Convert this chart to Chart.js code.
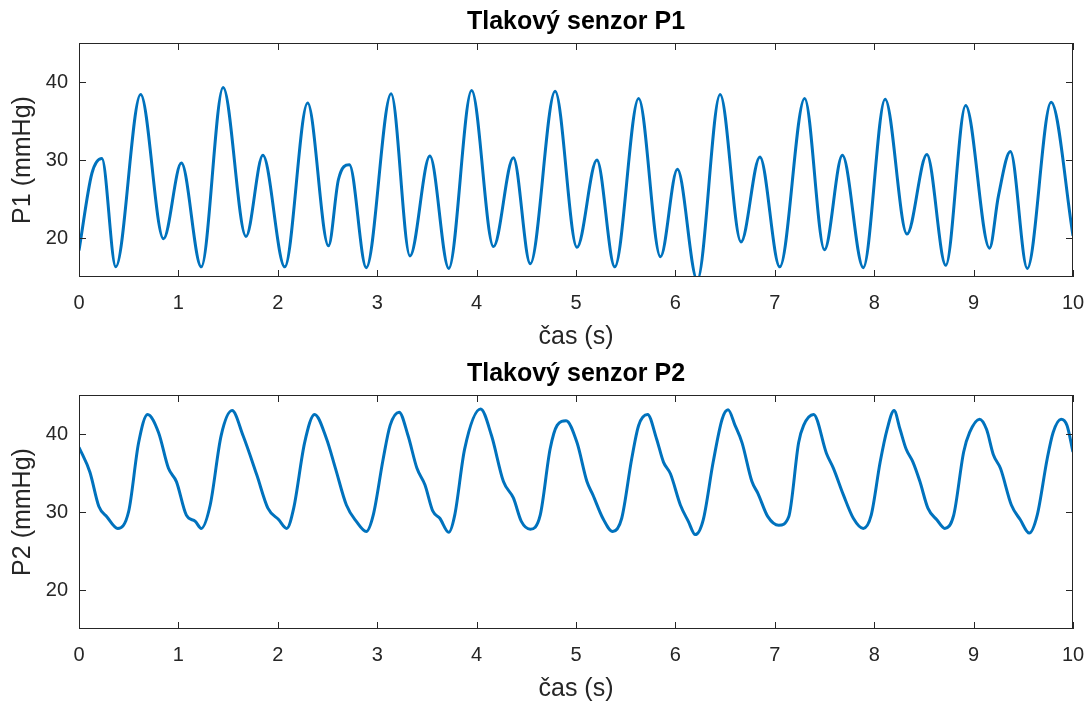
<!DOCTYPE html>
<html>
<head>
<meta charset="utf-8">
<title>Tlakové senzory P1 a P2</title>
<script src="https://cdn.jsdelivr.net/npm/chart.js@4.4.1/dist/chart.umd.min.js"></script>
<style>
    html, body { margin: 0; padding: 0; background: #fff; }
    canvas { display: block; }
</style>
</head>
<body>
<canvas id="chartP1" width="1091" height="352"></canvas>
<canvas id="chartP2" width="1091" height="353"></canvas>
<script>
// P1 - time (s) and pressure (mmHg)
const p1Time = [0, 0.13, 0.23, 0.37, 0.62, 0.85, 1.03, 1.23, 1.45, 1.68, 1.85, 2.07, 2.30, 2.51, 2.61, 2.72,
    2.89, 3.14, 3.33, 3.53, 3.72, 3.95, 4.17, 4.37, 4.54, 4.79, 5.01, 5.21, 5.39, 5.63, 5.85, 6.02, 6.22,
    6.45, 6.66, 6.85, 7.05, 7.30, 7.50, 7.68, 7.89, 8.11, 8.33, 8.53, 8.72, 8.92, 9.16, 9.25, 9.37, 9.54,
    9.78, 10.0]
const p1Values = [18.4, 28.3, 30.2, 16.3, 38.4, 19.9, 29.6, 16.3, 39.3, 20.2, 30.6, 16.3, 37.3, 19.0, 27.5, 29.4,
    16.2, 38.5, 17.7, 30.5, 16.1, 38.9, 18.9, 30.3, 16.7, 38.8, 18.8, 30.0, 16.3, 37.9, 17.6, 28.8, 14.6,
    38.4, 19.5, 30.4, 16.3, 37.9, 18.5, 30.6, 16.2, 37.8, 20.5, 30.7, 16.5, 37.0, 18.7, 25.4, 31.1, 16.1,
    37.4, 20.3]

// P2 - time (s) and pressure (mmHg)
const p2Time = [0, 0.11, 0.20, 0.28, 0.39, 0.50, 0.60, 0.69, 0.80, 0.90, 0.98, 1.08, 1.17, 1.23, 1.32, 1.43,
    1.54, 1.65, 1.79, 1.90, 2.01, 2.09, 2.16, 2.27, 2.37, 2.49, 2.58, 2.69, 2.79, 2.89, 2.96, 3.06, 3.13,
    3.22, 3.31, 3.40, 3.48, 3.56, 3.63, 3.72, 3.78, 3.88, 4.04, 4.15, 4.27, 4.37, 4.45, 4.54, 4.64, 4.74,
    4.81, 4.90, 5.01, 5.11, 5.17, 5.27, 5.37, 5.46, 5.56, 5.63, 5.72, 5.81, 5.88, 5.95, 6.05, 6.13, 6.20,
    6.28, 6.38, 6.47, 6.53, 6.60, 6.67, 6.77, 6.83, 6.93, 7.04, 7.14, 7.24, 7.29, 7.39, 7.52, 7.59, 7.69,
    7.79, 7.89, 7.97, 8.06, 8.13, 8.20, 8.26, 8.32, 8.39, 8.46, 8.54, 8.63, 8.71, 8.80, 8.90, 8.96, 9.06,
    9.13, 9.20, 9.27, 9.38, 9.47, 9.56, 9.64, 9.74, 9.80, 9.88, 9.94, 10.0]
const p2Values = [38.3, 35.1, 30.7, 29.4, 27.9, 30.1, 38.9, 42.5, 40.2, 35.6, 33.9, 29.6, 28.8, 27.9, 30.9, 39.8,
    43.0, 39.8, 34.7, 30.5, 29.0, 27.9, 30.5, 38.9, 42.5, 39.4, 35.6, 30.9, 28.8, 27.5, 29.6, 36.8, 41.1,
    42.8, 39.8, 35.6, 33.5, 30.1, 29.2, 27.4, 29.6, 38.1, 43.2, 39.8, 33.9, 31.8, 28.8, 27.8, 29.6, 38.1,
    41.1, 41.7, 38.9, 33.9, 32.2, 29.2, 27.5, 29.2, 36.8, 41.1, 42.5, 39.4, 36.4, 34.9, 30.9, 28.8, 27.1,
    29.0, 36.4, 41.9, 43.1, 41.1, 38.9, 33.9, 32.4, 29.4, 28.3, 29.4, 38.9, 41.1, 42.5, 37.5, 35.6, 32.2,
    29.2, 27.9, 29.6, 36.4, 40.6, 43.0, 40.6, 38.1, 36.4, 33.9, 30.5, 29.0, 27.9, 29.6, 37.7, 40.2, 41.9,
    40.6, 37.3, 35.6, 30.9, 29.0, 27.3, 29.6, 36.8, 40.2, 41.9, 41.1, 37.7]

const xTicks = [0, 1, 2, 3, 4, 5, 6, 7, 8, 9, 10]
const yTicks = [20, 30, 40]
const xRange = [0, 10]
const yRange = [15, 45]

const FONT = "'Liberation Sans', Arial, Helvetica, sans-serif"
const TEXT = '#262626'
const LINE = '#0072BD'

// box round the plot area with inward ticks on all four sides
const axesBox = {
    id: 'axesBox',
    afterDatasetsDraw(chart) {
        const { ctx, chartArea: a, scales: { x, y } } = chart
        const len = 7
        ctx.save()
        ctx.strokeStyle = TEXT
        ctx.lineWidth = 1
        ctx.beginPath()
        x.ticks.forEach(t => {
            const px = Math.round(x.getPixelForValue(t.value)) + 0.5
            ctx.moveTo(px, a.bottom); ctx.lineTo(px, a.bottom - len)
            ctx.moveTo(px, a.top); ctx.lineTo(px, a.top + len)
        })
        y.ticks.forEach(t => {
            const py = Math.round(y.getPixelForValue(t.value)) + 0.5
            ctx.moveTo(a.left, py); ctx.lineTo(a.left + len, py)
            ctx.moveTo(a.right, py); ctx.lineTo(a.right - len, py)
        })
        ctx.stroke()
        ctx.strokeRect(Math.round(a.left) + 0.5, Math.round(a.top) + 0.5,
            Math.round(a.width) - 1, Math.round(a.height) - 1)
        ctx.restore()
    }
}

function makePlot(canvasId, times, values, title, yLabel, xAxisHeight) {
    const points = times.map((t, i) => ({ x: t, y: values[i] }))
    return new Chart(document.getElementById(canvasId).getContext('2d'), {
        type: 'line',
        data: {
            datasets: [{
                data: points,
                borderColor: LINE,
                borderWidth: 3,
                pointRadius: 0,
                fill: false,
                cubicInterpolationMode: 'monotone',
                clip: 0
            }]
        },
        options: {
            responsive: false,
            animation: false,
            events: [],
            layout: { padding: { left: 0, right: 18, top: 0, bottom: 0 } },
            plugins: {
                legend: { display: false },
                tooltip: { enabled: false },
                title: {
                    display: true,
                    text: title,
                    fullSize: false,
                    color: '#000',
                    font: { family: FONT, size: 25, weight: 'bold', lineHeight: '30px' },
                    padding: { top: 7, bottom: 6 }
                }
            },
            scales: {
                x: {
                    type: 'linear',
                    min: xRange[0],
                    max: xRange[1],
                    afterBuildTicks: axis => { axis.ticks = xTicks.map(v => ({ value: v })) },
                    afterFit: axis => {
                        axis.height = xAxisHeight
                        axis.paddingLeft = 0
                        axis.paddingRight = 0
                    },
                    grid: { display: false, drawTicks: false },
                    border: { display: false },
                    ticks: {
                        color: TEXT,
                        font: { family: FONT, size: 20, lineHeight: '24px' },
                        padding: 14,
                        autoSkip: false,
                        maxRotation: 0
                    },
                    title: {
                        display: true,
                        text: 'čas (s)',
                        color: TEXT,
                        font: { family: FONT, size: 25, lineHeight: '30px' },
                        padding: { top: 0, bottom: xAxisHeight - 75 }
                    }
                },
                y: {
                    type: 'linear',
                    min: yRange[0],
                    max: yRange[1],
                    afterBuildTicks: axis => { axis.ticks = yTicks.map(v => ({ value: v })) },
                    afterFit: axis => {
                        axis.width = 79
                        axis.paddingTop = 0
                        axis.paddingBottom = 0
                    },
                    grid: { display: false, drawTicks: false },
                    border: { display: false },
                    ticks: {
                        color: TEXT,
                        font: { family: FONT, size: 20, lineHeight: '24px' },
                        padding: 11
                    },
                    title: {
                        display: true,
                        text: yLabel,
                        color: TEXT,
                        font: { family: FONT, size: 25, lineHeight: '30px' },
                        padding: { top: 8, bottom: 0 }
                    }
                }
            }
        },
        plugins: [axesBox]
    })
}

makePlot('chartP1', p1Time, p1Values, 'Tlakový senzor P1', 'P1 (mmHg)', 75)
makePlot('chartP2', p2Time, p2Values, 'Tlakový senzor P2', 'P2 (mmHg)', 76)
</script>
</body>
</html>
